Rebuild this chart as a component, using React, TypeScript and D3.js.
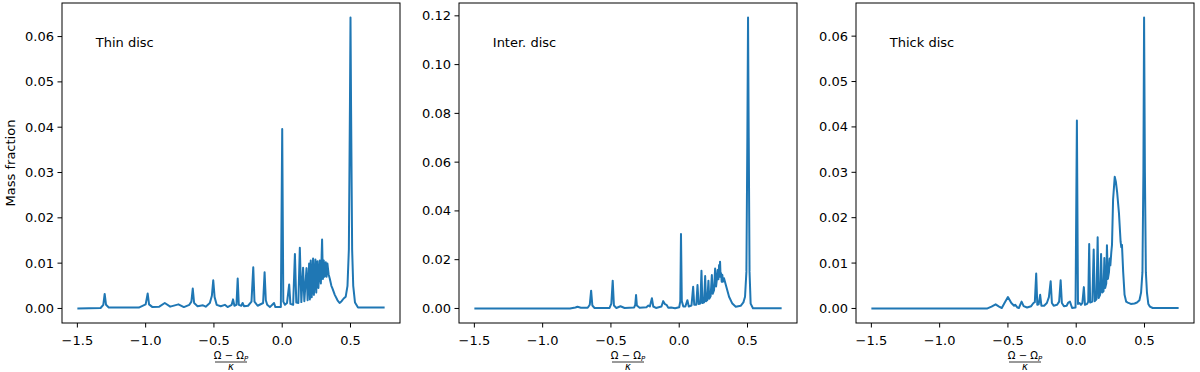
import React from "react";
import * as d3 from "d3";

// Ω-Ωp/κ vs mass fraction
const thinDisc: [number, number][] = [
  [-1.5, 0], [-1.33, 0.0001], [-1.31, 0.0008], [-1.3, 0.0032], [-1.29, 0.0008], [-1.27, 0.0002],
  [-1.05, 0.0002], [-1.0, 0.0009], [-0.985, 0.0033], [-0.975, 0.0009], [-0.95, 0.0003], [-0.9, 0.0004],
  [-0.86, 0.0012], [-0.82, 0.0004], [-0.76, 0.0009], [-0.72, 0.0003], [-0.68, 0.0008], [-0.665, 0.0015],
  [-0.655, 0.0044], [-0.645, 0.0012], [-0.62, 0.0005], [-0.58, 0.0007], [-0.56, 0.0004], [-0.53, 0.0012],
  [-0.515, 0.0028], [-0.505, 0.0062], [-0.495, 0.0025], [-0.48, 0.0008], [-0.45, 0.0005], [-0.42, 0.0008],
  [-0.4, 0.0003], [-0.37, 0.0008], [-0.36, 0.002], [-0.35, 0.0006], [-0.335, 0.0008], [-0.326, 0.0066],
  [-0.318, 0.0008], [-0.3, 0.0006], [-0.29, 0.0012], [-0.28, 0.0005], [-0.25, 0.0006], [-0.225, 0.0015],
  [-0.212, 0.0091], [-0.203, 0.0015], [-0.18, 0.0006], [-0.14, 0.0012], [-0.129, 0.008], [-0.12, 0.0018],
  [-0.11, 0.0008], [-0.09, 0.0003], [-0.06, 0.0012], [-0.05, 0.0003], [-0.01, 0.0003], [0.0, 0.0396],
  [0.008, 0.0015], [0.02, 0.0008], [0.035, 0.0012], [0.051, 0.0053], [0.06, 0.001], [0.08, 0.0008],
  [0.093, 0.012], [0.103, 0.0013], [0.118, 0.0012], [0.129, 0.0134], [0.14, 0.0014], [0.153, 0.009],
  [0.162, 0.0016], [0.178, 0.0089], [0.186, 0.0018], [0.197, 0.0099], [0.203, 0.002], [0.209, 0.0106],
  [0.216, 0.0025], [0.226, 0.011], [0.232, 0.003], [0.243, 0.0108], [0.249, 0.0035], [0.258, 0.0104],
  [0.265, 0.0045], [0.275, 0.0106], [0.283, 0.0055], [0.292, 0.0152], [0.298, 0.0065], [0.304, 0.0106],
  [0.31, 0.007], [0.319, 0.0102], [0.325, 0.007], [0.331, 0.0099], [0.34, 0.0075], [0.348, 0.0066],
  [0.36, 0.005], [0.367, 0.0045], [0.385, 0.003], [0.405, 0.0018], [0.42, 0.0012], [0.435, 0.0016],
  [0.45, 0.0022], [0.465, 0.0026], [0.478, 0.005], [0.488, 0.013], [0.496, 0.045], [0.5, 0.0642],
  [0.504, 0.045], [0.512, 0.013], [0.52, 0.005], [0.533, 0.0013], [0.555, 0.0002], [0.75, 0.0002],
];

const interDisc: [number, number][] = [
  [-1.5, 0], [-0.8, 0], [-0.76, 0.0004], [-0.745, 0.0007], [-0.72, 0.0003], [-0.67, 0.0003],
  [-0.655, 0.0015], [-0.645, 0.0073], [-0.636, 0.0012], [-0.62, 0.0002], [-0.51, 0.0002], [-0.497, 0.002],
  [-0.487, 0.0114], [-0.478, 0.0012], [-0.46, 0.0002], [-0.43, 0.0009], [-0.4, 0.0002], [-0.33, 0.0004],
  [-0.322, 0.0015], [-0.316, 0.0055], [-0.31, 0.0012], [-0.29, 0.0003], [-0.24, 0.0005], [-0.226, 0.0012],
  [-0.215, 0.0008], [-0.2, 0.0042], [-0.19, 0.0008], [-0.17, 0.0002], [-0.13, 0.0008], [-0.117, 0.003],
  [-0.105, 0.0018], [-0.093, 0.0015], [-0.08, 0.0003], [-0.06, 0.0004], [-0.03, 0.0001], [0.0, 0.0005],
  [0.008, 0.003], [0.013, 0.0305], [0.019, 0.003], [0.03, 0.0008], [0.045, 0.0008], [0.06, 0.0034],
  [0.07, 0.0008], [0.09, 0.0012], [0.102, 0.0089], [0.11, 0.0015], [0.125, 0.0015], [0.134, 0.0096],
  [0.142, 0.0018], [0.155, 0.002], [0.163, 0.0155], [0.17, 0.0022], [0.182, 0.0025], [0.19, 0.0133],
  [0.196, 0.003], [0.206, 0.0035], [0.214, 0.0114], [0.22, 0.004], [0.23, 0.005], [0.239, 0.0137],
  [0.245, 0.006], [0.255, 0.0075], [0.263, 0.0164], [0.27, 0.009], [0.276, 0.012], [0.282, 0.0158],
  [0.287, 0.012], [0.292, 0.0178], [0.296, 0.013], [0.299, 0.0192], [0.303, 0.013], [0.307, 0.0144],
  [0.311, 0.011], [0.316, 0.0137], [0.32, 0.011], [0.328, 0.0124], [0.345, 0.0089], [0.365, 0.0048],
  [0.389, 0.002], [0.414, 0.0007], [0.45, 0.0011], [0.47, 0.0025], [0.482, 0.0048], [0.492, 0.015],
  [0.499, 0.07], [0.504, 0.1193], [0.509, 0.07], [0.515, 0.015], [0.523, 0.002], [0.54, 0.0001],
  [0.75, 0.0001],
];

const thickDisc: [number, number][] = [
  [-1.5, 0], [-0.65, 0], [-0.62, 0.0004], [-0.59, 0.0009], [-0.565, 0.0004], [-0.545, 0.0001],
  [-0.525, 0.0012], [-0.5, 0.0025], [-0.475, 0.0012], [-0.455, 0.0006], [-0.446, 0.0008], [-0.43, 0.0002],
  [-0.42, 0.0001], [-0.4, 0.0015], [-0.385, 0.0005], [-0.36, 0.0002], [-0.33, 0.0005], [-0.313, 0.0012],
  [-0.303, 0.0014], [-0.293, 0.0077], [-0.285, 0.0008], [-0.275, 0.0009], [-0.264, 0.003], [-0.255, 0.0006],
  [-0.235, 0.0006], [-0.215, 0.0012], [-0.2, 0.0025], [-0.187, 0.006], [-0.178, 0.0012], [-0.165, 0.0006],
  [-0.14, 0.0008], [-0.125, 0.0015], [-0.114, 0.0062], [-0.105, 0.0012], [-0.09, 0.0005], [-0.07, 0.0006],
  [-0.058, 0.0013], [-0.046, 0.0015], [-0.03, 0.0001], [-0.005, 0.0002], [0.005, 0.0414], [0.013, 0.001],
  [0.025, 0.0012], [0.035, 0.0008], [0.045, 0.0012], [0.056, 0.0047], [0.064, 0.0008], [0.08, 0.001],
  [0.088, 0.0015], [0.095, 0.0142], [0.102, 0.0013], [0.118, 0.0015], [0.128, 0.013], [0.136, 0.0016],
  [0.148, 0.002], [0.157, 0.0157], [0.164, 0.0023], [0.175, 0.003], [0.182, 0.012], [0.19, 0.0035],
  [0.2, 0.0038], [0.206, 0.0111], [0.212, 0.0045], [0.22, 0.0055], [0.225, 0.0139], [0.232, 0.0065],
  [0.24, 0.008], [0.245, 0.011], [0.25, 0.0095], [0.257, 0.0124], [0.262, 0.014], [0.27, 0.024],
  [0.282, 0.029], [0.29, 0.028], [0.3, 0.0255], [0.313, 0.021], [0.325, 0.0147], [0.33, 0.0135],
  [0.335, 0.014], [0.344, 0.008], [0.354, 0.003], [0.366, 0.0015], [0.378, 0.0013], [0.4, 0.001],
  [0.427, 0.0011], [0.445, 0.0013], [0.463, 0.0018], [0.475, 0.0035], [0.485, 0.008], [0.492, 0.03],
  [0.497, 0.0641], [0.503, 0.03], [0.51, 0.008], [0.518, 0.0035], [0.528, 0.001], [0.54, 0.0004],
  [0.56, 0.0001], [0.75, 0.0001],
];

const panelNames = ["Thin disc", "Inter. disc", "Thick disc"];
const panelSeries = [thinDisc, interDisc, thickDisc];
const panelYMax = [0.0642, 0.1193, 0.0641];
const panelYTicks = [
  [0, 0.01, 0.02, 0.03, 0.04, 0.05, 0.06],
  [0, 0.02, 0.04, 0.06, 0.08, 0.1, 0.12],
  [0, 0.01, 0.02, 0.03, 0.04, 0.05, 0.06],
];
const xTicks = [-1.5, -1.0, -0.5, 0.0, 0.5];

const W = 1200;
const H = 372;
const lefts = [62, 459, 856];
const pw = 338;
const top = 3;
const ph = 320;
const font = "DejaVu Sans, sans-serif";
const blue = "#1f77b4";

const Panel = ({ idx }: { idx: number }) => {
  const data = panelSeries[idx];
  const x0 = -1.5, x1 = 0.75;
  const xm = (x1 - x0) * 0.05;
  const ymax = panelYMax[idx];
  const ym = ymax * 0.05;
  const x = d3.scaleLinear().domain([x0 - xm, x1 + xm]).range([0, pw]);
  const y = d3.scaleLinear().domain([-ym, ymax + ym]).range([ph, 0]);
  const line = d3.line<[number, number]>().x(d => x(d[0])).y(d => y(d[1]));
  const fy = d3.format(".2f");
  const fx = d3.format(".1f");
  const cx = pw / 2;

  return (
    <g transform={`translate(${lefts[idx]},${top})`} fontFamily={font}>
      <defs>
        <clipPath id={`clip${idx}`}>
          <rect x={0} y={0} width={pw} height={ph} />
        </clipPath>
      </defs>
      <path d={line(data) || ""} fill="none" stroke={blue} strokeWidth={2}
        strokeLinejoin="round" clipPath={`url(#clip${idx})`} />
      <rect x={0} y={0} width={pw} height={ph} fill="none" stroke="#000" strokeWidth={1} />
      {panelYTicks[idx].map(t => (
        <g key={t} transform={`translate(0,${y(t)})`}>
          <line x1={-4.5} x2={0} stroke="#000" />
          <text x={-8} dy="0.35em" textAnchor="end" fontSize={13}>{fy(t)}</text>
        </g>
      ))}
      {xTicks.map(t => (
        <g key={t} transform={`translate(${x(t)},${ph})`}>
          <line y1={0} y2={4.5} stroke="#000" />
          <text y={22} textAnchor="middle" fontSize={13}>{fx(t)}</text>
        </g>
      ))}
      <text x={pw * 0.1} y={44} fontSize={13}>{panelNames[idx]}</text>
      {/* x label: (Ω − Ω_P) / κ */}
      <text x={cx} y={356} textAnchor="middle" fontSize={10}>
        Ω − Ω<tspan fontStyle="italic" fontSize={7} dy={2}>P</tspan>
      </text>
      <line x1={cx - 16} x2={cx + 16} y1={359} y2={359} stroke="#000" strokeWidth={0.8} />
      <text x={cx} y={367} textAnchor="middle" fontSize={10} fontStyle="italic">κ</text>
      {idx === 0 && (
        <text transform={`translate(${-47},${ph / 2}) rotate(-90)`} textAnchor="middle" fontSize={13}>
          Mass fraction
        </text>
      )}
    </g>
  );
};

export default function App() {
  return (
    <svg width={W} height={H} style={{ position: "absolute", left: 0, top: 0, background: "#fff" }}>
      {[0, 1, 2].map(i => <Panel key={i} idx={i} />)}
    </svg>
  );
}
